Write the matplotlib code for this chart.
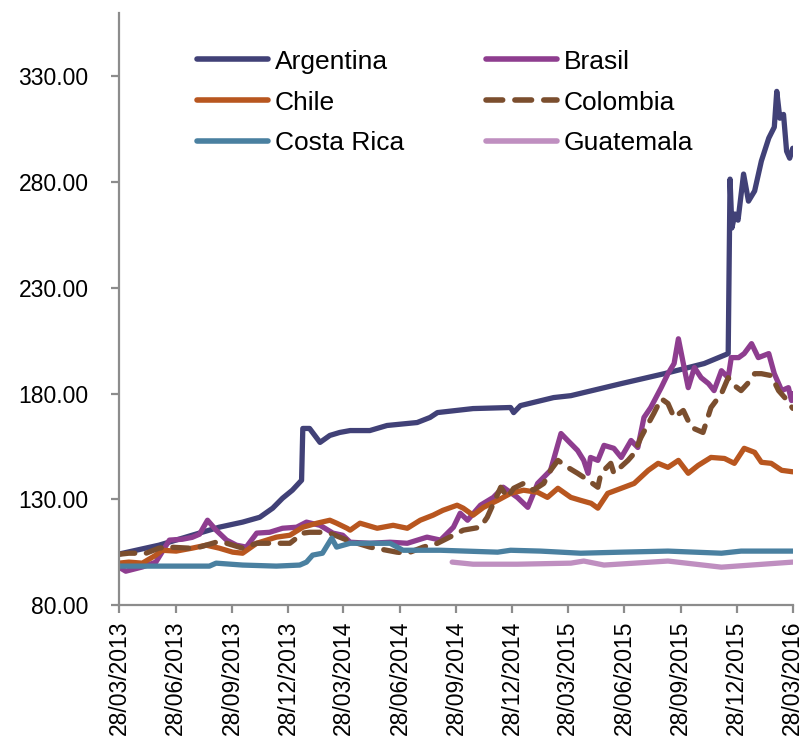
import matplotlib
matplotlib.use('Agg')
import matplotlib.pyplot as plt
import matplotlib.dates as mdates
import pandas as pd

# fecha base del eje: 28/03/2013 (x = dias desde esa fecha)
START = pd.Timestamp('2013-03-28')

arg_days = [0, 65, 119, 163, 201, 229, 250, 266, 282, 297, 299, 310, 327, 343, 359, 376,
            408, 436, 485, 506, 518, 576, 637, 642, 653, 707, 735, 817, 887, 952, 991,
            994, 997, 1002, 1007, 1016, 1024, 1034, 1045, 1057, 1066, 1070, 1075, 1081,
            1086, 1091, 1096]
arg_vals = [104.1, 108.3, 113.0, 116.8, 119.2, 121.5, 125.8, 130.5, 134.3, 139.0, 163.5,
            163.5, 156.9, 160.2, 161.6, 162.5, 162.5, 164.9, 166.3, 168.7, 171.0, 172.9,
            173.4, 171.0, 174.3, 178.1, 179.0, 184.7, 189.4, 194.2, 198.9, 281.4, 258.3,
            264.9, 262.0, 283.8, 271.0, 275.8, 290.0, 300.8, 306.0, 322.9, 310.2, 312.0,
            294.6, 291.3, 296.0]

bra_days = [0, 11, 38, 60, 82, 103, 119, 131, 144, 158, 175, 191, 207, 224, 245, 266, 289,
            305, 327, 348, 364, 376, 408, 441, 469, 501, 523, 544, 555, 567, 588, 609, 625,
            648, 665, 681, 702, 719, 730, 746, 756, 763, 767, 779, 789, 805, 817, 833, 844,
            854, 865, 882, 893, 903, 910, 918, 926, 936, 947, 959, 968, 980, 991, 996, 1008,
            1017, 1029, 1040, 1057, 1066, 1078, 1089, 1094, 1096]
bra_vals = [97.9, 96.0, 98.0, 100.3, 110.7, 111.1, 112.0, 113.5, 120.1, 115.4, 110.7, 108.3,
            107.4, 114.0, 114.4, 116.3, 116.8, 119.2, 117.7, 114.0, 113.0, 109.7, 109.2,
            109.7, 109.2, 112.1, 110.7, 116.8, 123.4, 120.1, 127.2, 130.9, 135.7, 130.9,
            126.2, 137.5, 143.7, 161.1, 157.8, 153.1, 148.4, 142.3, 149.8, 148.4, 155.5,
            154.1, 149.8, 157.8, 154.5, 168.7, 173.4, 182.8, 189.4, 194.2, 205.9, 194.2,
            182.8, 192.3, 187.5, 184.7, 181.4, 190.8, 187.5, 197.0, 197.0, 198.9, 203.6,
            197.0, 198.9, 189.4, 181.4, 182.8, 176.7, 180.0]

chi_days = [0, 16, 38, 60, 70, 93, 119, 142, 163, 185, 201, 224, 256, 278, 299, 322, 343,
            354, 371, 376, 392, 420, 446, 469, 490, 511, 527, 550, 560, 576, 593, 616, 637,
            658, 681, 697, 714, 735, 751, 768, 779, 795, 817, 838, 861, 877, 893, 910, 926,
            942, 963, 985, 1001, 1017, 1034, 1045, 1061, 1078, 1096]
chi_vals = [99.8, 100.3, 99.8, 103.6, 105.9, 105.5, 106.9, 108.3, 106.9, 105.0, 104.5,
            109.2, 112.1, 113.0, 116.8, 118.7, 120.1, 118.7, 116.3, 115.4, 118.7, 116.3,
            117.7, 116.3, 120.1, 122.5, 124.8, 127.2, 125.8, 122.5, 126.2, 129.5, 132.8,
            134.3, 133.3, 130.9, 135.2, 130.9, 129.5, 128.1, 125.8, 132.8, 135.2, 137.5,
            143.7, 147.0, 145.1, 148.4, 142.3, 146.0, 149.8, 149.3, 147.0, 154.1, 152.2,
            147.5, 147.0, 143.7, 143.0]

col_days = [0, 16, 44, 65, 82, 114, 131, 158, 175, 201, 224, 256, 278, 299, 310, 327, 343,
            359, 371, 408, 452, 469, 495, 518, 544, 560, 588, 599, 621, 632, 642, 658, 674,
            691, 702, 714, 730, 746, 756, 763, 779, 784, 800, 805, 828, 838, 849, 861, 870,
            882, 893, 903, 918, 931, 950, 963, 980, 991, 1001, 1012, 1024, 1034, 1045, 1061,
            1073, 1083, 1096]
col_vals = [104.0, 104.5, 104.5, 106.9, 107.4, 106.9, 107.4, 109.7, 109.2, 106.9, 109.2,
            109.2, 109.2, 114.0, 114.4, 114.4, 114.0, 112.1, 110.7, 107.4, 105.0, 104.5,
            107.4, 109.2, 113.0, 115.4, 116.8, 121.5, 135.7, 130.9, 135.2, 137.5, 134.3,
            137.5, 143.7, 148.4, 145.1, 142.3, 140.4, 139.0, 135.7, 142.3, 147.0, 142.3,
            148.4, 151.7, 159.2, 165.8, 170.6, 177.6, 175.3, 168.7, 172.0, 164.0, 161.6,
            173.4, 180.0, 187.5, 183.8, 181.4, 185.2, 189.4, 189.4, 188.5, 181.4, 178.1,
            173.0]

cr_days = [0, 147, 158, 201, 256, 294, 305, 315, 331, 346, 354, 376, 392, 441, 462, 523,
           616, 637, 686, 751, 817, 893, 980, 1012, 1096]
cr_vals = [98.4, 98.4, 99.8, 98.9, 98.4, 98.9, 100.3, 103.6, 104.5, 111.6, 107.4, 109.2,
           109.2, 109.2, 105.9, 105.9, 105.0, 105.9, 105.5, 104.5, 105.0, 105.5, 104.5,
           105.5, 105.5]

gua_days = [542, 576, 648, 735, 756, 789, 893, 980, 1096]
gua_vals = [100.3, 99.3, 99.3, 99.8, 100.8, 98.9, 100.8, 97.9, 100.3]

series = [
    ('Argentina', arg_days, arg_vals, '#414177', '-'),
    ('Brasil', bra_days, bra_vals, '#8e3d8f', '-'),
    ('Chile', chi_days, chi_vals, '#b8561f', '-'),
    ('Colombia', col_days, col_vals, '#7b4e2e', (0, (3, 2.2))),
    ('Costa Rica', cr_days, cr_vals, '#4a80a0', '-'),
    ('Guatemala', gua_days, gua_vals, '#bf8fc0', '-'),
]

plt.rcParams['font.family'] = ['Liberation Sans', 'DejaVu Sans']

fig = plt.figure(figsize=(8.04, 7.42), dpi=100)
ax = fig.add_axes([0.148, 0.1846, 0.838, 0.798])

lines = {}
for name, d, v, c, ls in series:
    x = START + pd.to_timedelta(d, unit='D')
    lines[name], = ax.plot(x, v, color=c, lw=3.8, ls=ls, label=name,
                           solid_capstyle='round', dash_capstyle='round',
                           solid_joinstyle='round')

xticks = pd.date_range(START, periods=13, freq=pd.DateOffset(months=3))
ax.set_xticks(xticks)
ax.xaxis.set_major_formatter(mdates.DateFormatter('%d/%m/%Y'))
ax.set_xlim(xticks[0], xticks[-1])
ax.set_ylim(80, 360)
yticks = [80, 130, 180, 230, 280, 330]
ax.set_yticks(yticks)
ax.set_yticklabels(['%.2f' % t for t in yticks])

for s in ['top', 'right']:
    ax.spines[s].set_visible(False)
for s in ['left', 'bottom']:
    ax.spines[s].set_color('#8c8c8c')
    ax.spines[s].set_linewidth(1.6)

ax.tick_params(axis='x', direction='out', length=6, width=1.6, color='#8c8c8c',
               labelsize=16.5, rotation=90, pad=5)
ax.tick_params(axis='y', direction='out', length=6, width=1.6, color='#8c8c8c',
               labelsize=16.5, pad=16)

# orden por filas como en el original
order = ['Argentina', 'Chile', 'Costa Rica', 'Brasil', 'Colombia', 'Guatemala']
leg = ax.legend([lines[n] for n in order], order, ncol=2, loc='upper left',
                bbox_to_anchor=(0.245, 0.933), bbox_transform=fig.transFigure,
                frameon=False, fontsize=19,
                handlelength=2.7, handletextpad=0.25, columnspacing=3.1,
                labelspacing=0.64, borderpad=0, borderaxespad=0)
for line in leg.get_lines():
    line.set_linewidth(4)

fig.savefig('out.png', dpi=100)
